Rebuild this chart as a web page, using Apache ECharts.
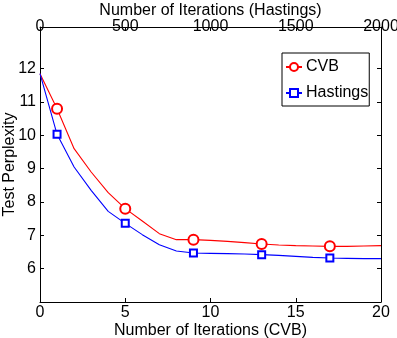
<!DOCTYPE html>
<html>
<head>
<meta charset="utf-8">
<script src="https://cdn.jsdelivr.net/npm/echarts@6/dist/echarts.min.js"></script>
<style>
  html, body { margin: 0; padding: 0; background: #fff; }
  #chart { width: 397px; height: 338px; }
</style>
</head>
<body>
<div id="chart"></div>
<script>
// iterations (CVB axis) and perplexity values
var iters = [0, 1, 2, 3, 4, 5, 6, 7, 8, 9, 10, 11, 12, 13, 14, 15, 16, 17, 18, 19, 20]
var cvb = [11.85, 10.8, 9.6, 8.9, 8.28, 7.8, 7.43, 7.05, 6.87, 6.87, 6.85, 6.82, 6.78, 6.74, 6.71, 6.69, 6.68, 6.67, 6.67, 6.68, 6.69]
var hastings = [11.85, 10.03, 9.05, 8.35, 7.72, 7.36, 7.02, 6.72, 6.53, 6.47, 6.46, 6.45, 6.44, 6.42, 6.4, 6.37, 6.34, 6.32, 6.31, 6.3, 6.3]
// only these points carry a marker
var markerAt = [1, 5, 9, 13, 17]
var yTicks = [6, 7, 8, 9, 10, 11, 12]

var font = '"Liberation Sans", Arial, sans-serif'

// build [x, y] items, hide the symbol where there is no marker
function toData(vals) {
  return iters.map(function (x, i) {
    var item = { value: [x, vals[i]] }
    if (markerAt.indexOf(x) < 0) item.symbol = 'none'
    return item
  })
}

var chart = echarts.init(document.getElementById('chart'))

var axisCommon = {
  axisLine: { show: true, onZero: false, lineStyle: { color: '#000', width: 1 } },
  axisTick: { show: true, inside: true, length: 4, lineStyle: { color: '#000' } },
  splitLine: { show: false },
  nameMoveOverlap: false,
  nameTextStyle: { color: '#000', fontSize: 16, fontFamily: font }
}

var option = {
  animation: false,
  backgroundColor: '#fff',
  grid: { left: 40, right: 16, top: 27, bottom: 36, containLabel: false, outerBoundsMode: 'none' },
  legend: {
    orient: 'vertical',
    left: 282,
    top: 53,
    align: 'left',
    backgroundColor: '#fff',
    borderColor: '#000',
    borderWidth: 1,
    borderRadius: 0,
    padding: [6, 1, 5, 3],
    itemWidth: 16,
    itemHeight: 10,
    itemGap: 10,
    textStyle: { color: '#000', fontSize: 16, fontFamily: font, lineHeight: 16, padding: [0, 0, 0, -1] },
    data: ['CVB', 'Hastings']
  },
  xAxis: [
    Object.assign({}, axisCommon, {
      type: 'value',
      position: 'bottom',
      min: 0, max: 20, interval: 5,
      name: 'Number of Iterations (CVB)',
      nameLocation: 'middle',
      nameGap: 21,
      axisLabel: { color: '#000', fontSize: 16, fontFamily: font, margin: 3 }
    }),
    Object.assign({}, axisCommon, {
      type: 'value',
      position: 'top',
      min: 0, max: 2000, interval: 500,
      name: 'Number of Iterations (Hastings)',
      nameLocation: 'middle',
      nameGap: 8,
      axisLabel: {
        color: '#000', fontSize: 16, fontFamily: font, margin: 0,
        verticalAlign: 'middle',
        formatter: function (v) { return String(v) }
      }
    })
  ],
  yAxis: [
    Object.assign({}, axisCommon, {
      type: 'value',
      position: 'left',
      min: 5, max: 13.25,
      name: 'Test Perplexity',
      nameLocation: 'middle',
      nameGap: 22,
      axisTick: { show: true, inside: true, length: 4, lineStyle: { color: '#000' }, customValues: yTicks },
      axisLabel: { color: '#000', fontSize: 16, fontFamily: font, margin: 4, customValues: yTicks }
    }),
    Object.assign({}, axisCommon, {
      type: 'value',
      position: 'right',
      min: 5, max: 13.25,
      axisTick: { show: true, inside: true, length: 4, lineStyle: { color: '#000' }, customValues: yTicks },
      axisLabel: { show: false }
    })
  ],
  series: [
    {
      name: 'CVB',
      type: 'line',
      xAxisIndex: 0,
      yAxisIndex: 0,
      data: toData(cvb),
      symbol: 'emptyCircle',
      symbolSize: 10,
      showAllSymbol: true,
      color: '#ff0000',
      lineStyle: { color: '#ff0000', width: 1.1 },
      itemStyle: { color: '#ff0000', borderColor: '#ff0000', borderWidth: 1 }
    },
    {
      name: 'Hastings',
      type: 'line',
      xAxisIndex: 0,
      yAxisIndex: 0,
      data: toData(hastings),
      symbol: 'emptyRect',
      symbolSize: 7,
      showAllSymbol: true,
      color: '#0000ff',
      lineStyle: { color: '#0000ff', width: 1.1 },
      itemStyle: { color: '#0000ff', borderColor: '#0000ff', borderWidth: 1 }
    }
  ]
}

chart.setOption(option)
</script>
</body>
</html>
